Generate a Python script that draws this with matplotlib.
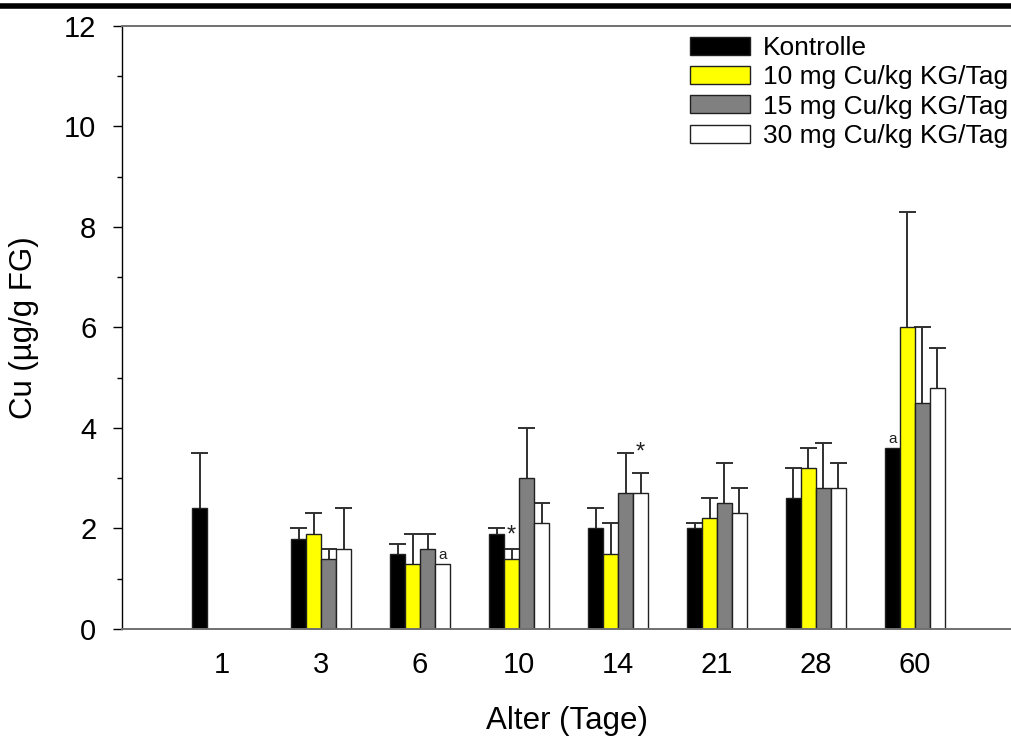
import matplotlib.pyplot as plt
import matplotlib.lines as mlines
import numpy as np

plt.rcParams['font.family'] = ['Liberation Sans', 'DejaVu Sans']

# Alter (Tage)
days = ['1', '3', '6', '10', '14', '21', '28', '60']
series = ['Kontrolle', '10 mg Cu/kg KG/Tag', '15 mg Cu/kg KG/Tag', '30 mg Cu/kg KG/Tag']
colors = ['black', '#ffff00', '#808080', 'white']

# mean values (µg/g FG)
kontrolle = [2.4, 1.8, 1.5, 1.9, 2.0, 2.0, 2.6, 3.6]
cu10 = [np.nan, 1.9, 1.3, 1.4, 1.5, 2.2, 3.2, 6.0]
cu15 = [np.nan, 1.4, 1.6, 3.0, 2.7, 2.5, 2.8, 4.5]
cu30 = [np.nan, 1.6, 1.3, 2.1, 2.7, 2.3, 2.8, 4.8]

# top of the error bars
kontrolle_top = [3.5, 2.0, 1.7, 2.0, 2.4, 2.1, 3.2, np.nan]
cu10_top = [np.nan, 2.3, 1.9, 1.6, 2.1, 2.6, 3.6, 8.3]
cu15_top = [np.nan, 1.6, 1.9, 4.0, 3.5, 3.3, 3.7, 6.0]
cu30_top = [np.nan, 2.4, np.nan, 2.5, 3.1, 2.8, 3.3, 5.6]

# annotations: (group index, series index, y, text)
marks = [(2, 3, 1.33, 'a'), (3, 1, 1.65, '*'), (4, 3, 3.3, '*'), (7, 0, 3.65, 'a')]

means = [kontrolle, cu10, cu15, cu30]
tops = [kontrolle_top, cu10_top, cu15_top, cu30_top]

fig = plt.figure(figsize=(10.12, 7.36), dpi=100)
ax = fig.add_axes([0.1206, 0.1454, 0.8794, 0.8193])

x = np.arange(len(days))
w = 0.1515
offsets = [-1.5 * w, -0.5 * w, 0.5 * w, 1.5 * w]
cap = 0.085

handles = []
for i in range(4):
    m = np.array(means[i], dtype=float)
    t = np.array(tops[i], dtype=float)
    xs = x + offsets[i]
    bars = ax.bar(xs, m, width=w, color=colors[i], edgecolor='#202020',
                  linewidth=1.0, label=series[i], zorder=2)
    ok = ~np.isnan(t)
    ax.vlines(xs[ok], m[ok], t[ok], color='#303030', linewidth=1.4, zorder=1)
    ax.hlines(t[ok], xs[ok] - cap, xs[ok] + cap, color='#303030', linewidth=1.4, zorder=1)
    handles.append(bars)

for g, s, yv, txt in marks:
    fs = 11 if txt == 'a' else 17
    ax.text(x[g] + offsets[s], yv, txt, ha='center', va='bottom', fontsize=fs, color='#202020')

ax.set_ylim(0, 12)
ax.set_xlim(-1.01, 7.98)
ax.set_yticks(np.arange(0, 13, 2))
ax.set_yticks(np.arange(1, 12, 2), minor=True)
ax.set_xticks(x)
ax.set_xticklabels(days)
ax.tick_params(axis='x', length=0, pad=16, labelsize=21)
ax.tick_params(axis='y', which='major', length=6.5, width=1, pad=12, labelsize=21, color='black')
ax.tick_params(axis='y', which='minor', length=3.6, width=1, color='black')

ax.spines['left'].set_color('black')
ax.spines['left'].set_linewidth(1.0)
for side in ['top', 'bottom']:
    ax.spines[side].set_color('#707070')
    ax.spines[side].set_linewidth(1.4)
ax.spines['right'].set_visible(False)

ax.set_xlabel('Alter (Tage)', fontsize=22.5, labelpad=19)
ax.set_ylabel('Cu (µg/g FG)', fontsize=22.5, labelpad=18)

leg = fig.legend(handles=handles, labels=series, loc='upper left',
                 bbox_to_anchor=(0.682, 0.951), frameon=False, fontsize=19,
                 handlelength=2.27, handleheight=0.68, handletextpad=0.5,
                 labelspacing=0.2, borderpad=0, borderaxespad=0)

# thick rule across the top of the figure
fig.add_artist(mlines.Line2D([0, 1], [0.992, 0.992], color='black', linewidth=4,
                             transform=fig.transFigure))

fig.savefig('out.png', dpi=100)
